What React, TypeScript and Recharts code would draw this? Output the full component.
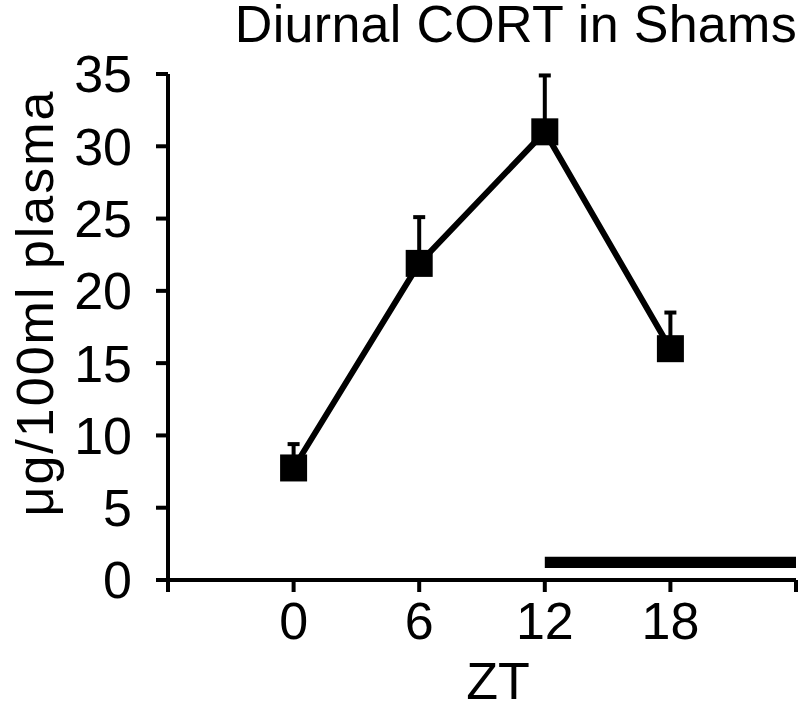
import React from "react";
import {
  LineChart,
  Line,
  XAxis,
  YAxis,
  ErrorBar,
  ReferenceArea,
} from "recharts";

const zt = [0, 6, 12, 18];
const cort = [7.75, 21.9, 31.0, 16.0];
const sem = [1.65, 3.2, 3.9, 2.5];
const xTicks = [-6, 0, 6, 12, 18, 24];
const xTickLabels = ["", "0", "6", "12", "18", ""];
const yTicks = [0, 5, 10, 15, 20, 25, 30, 35];
const nightStart = 12;
const nightEnd = 24;
const nightBarLow = 0.83;
const nightBarHigh = 1.6;

const data = zt.map((x, i) => ({ zt: x, cort: cort[i], err: [0, sem[i]] }));

const FONT = "'Liberation Sans', Arial, sans-serif";

const SquareDot = (props: any) => {
  const { cx, cy, index } = props;
  if (cx == null || cy == null) return null;
  const s = 27;
  return <rect key={`d-${index}`} x={cx - s / 2} y={cy - s / 2} width={s} height={s} fill="#000" />;
};

export default function App() {
  return (
    <div style={{ position: "absolute", left: 0, top: 0, width: 800, height: 705, background: "#fff", fontFamily: FONT }}>
      <LineChart
        width={800}
        height={705}
        data={data}
        margin={{ top: 74, right: 4, bottom: 0, left: 0 }}
      >
        <XAxis
          dataKey="zt"
          type="number"
          domain={[-6, 24]}
          ticks={xTicks}
          tickFormatter={(v: number) => xTickLabels[xTicks.indexOf(v)] ?? ""}
          height={125}
          tickSize={12}
          tickMargin={10}
          axisLine={{ stroke: "#000", strokeWidth: 4 }}
          tickLine={{ stroke: "#000", strokeWidth: 4 }}
          tick={{ fill: "#000", fontSize: 52, fontFamily: FONT }}
          interval={0}
          label={{
            content: () => (
              <text x={498} y={699} textAnchor="middle" fill="#000" fontSize={52} fontFamily={FONT}>
                ZT
              </text>
            ),
          }}
        />
        <YAxis
          type="number"
          domain={[0, 35]}
          ticks={yTicks}
          width={168}
          tickSize={12}
          tickMargin={24}
          interval={0}
          axisLine={{ stroke: "#000", strokeWidth: 4 }}
          tickLine={{ stroke: "#000", strokeWidth: 4 }}
          tick={{ fill: "#000", fontSize: 52, fontFamily: FONT }}
          label={{
            content: () => (
              <text
                x={53}
                y={303}
                transform="rotate(-90 53 303)"
                textAnchor="middle"
                fill="#000"
                fontSize={52}
                fontFamily={FONT}
                letterSpacing={2}
              >
                μg/100ml plasma
              </text>
            ),
          }}
        />
        <ReferenceArea
          x1={nightStart}
          x2={nightEnd}
          y1={nightBarLow}
          y2={nightBarHigh}
          fill="#000"
          fillOpacity={1}
          stroke="none"
          ifOverflow="visible"
        />
        <Line
          dataKey="cort"
          type="linear"
          stroke="#000"
          strokeWidth={6}
          dot={<SquareDot />}
          activeDot={false}
          isAnimationActive={false}
        >
          <ErrorBar dataKey="err" direction="y" width={6} stroke="#000" strokeWidth={4} />
        </Line>
      </LineChart>
      <div
        style={{
          position: "absolute",
          left: 0,
          top: -2,
          width: 797,
          textAlign: "right",
          fontSize: 52,
          lineHeight: "52px",
          fontFamily: FONT,
          color: "#000",
          letterSpacing: 0.3,
          whiteSpace: "nowrap",
        }}
      >
        Diurnal CORT in Shams
      </div>
    </div>
  );
}
